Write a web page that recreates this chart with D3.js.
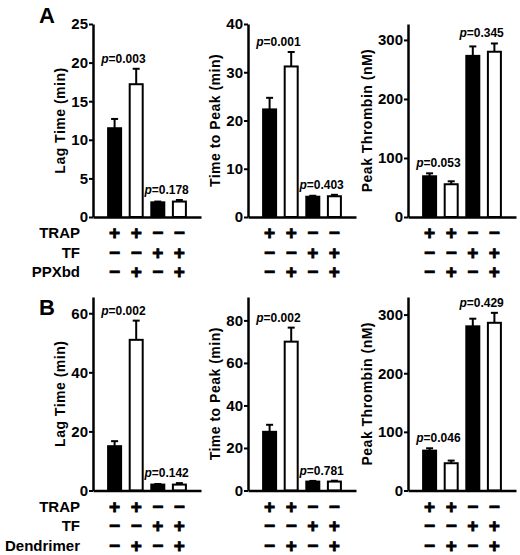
<!DOCTYPE html>
<html>
<head>
<meta charset="utf-8">
<script src="https://cdn.jsdelivr.net/npm/d3@7"></script>
<style>
  body { margin: 0; background: #fff; }
  svg { display: block; font-family: "Liberation Sans", Arial, sans-serif; }
  .axis path, .axis line { stroke: #000; }
  .axis text { font-size: 15px; font-weight: bold; fill: #000; }
</style>
</head>
<body>
<svg id="chart" width="520" height="555"></svg>
<script>
// Data (means and upper SEM)
const lagA = [11.5, 17.2, 1.9, 2.0];
const lagAErr = [1.2, 2.0, 0.1, 0.2];
const ttpA = [22.3, 31.2, 4.2, 4.3];
const ttpAErr = [2.4, 3.0, 0.2, 0.3];
const peakA = [69, 55.5, 273, 280];
const peakAErr = [5, 5, 16, 14];

const lagB = [15.0, 51.0, 2.0, 2.0];
const lagBErr = [1.7, 6.5, 0.2, 0.5];
const ttpB = [27.6, 70.0, 4.2, 4.2];
const ttpBErr = [3.3, 6.6, 0.3, 0.4];
const peakB = [68, 46.5, 280, 286];
const peakBErr = [4, 4.5, 13, 17];

const pA = [["0.003", "0.178"], ["0.001", "0.403"], ["0.053", "0.345"]];
const pB = [["0.002", "0.142"], ["0.002", "0.781"], ["0.046", "0.429"]];

const titles = ["Lag Time (min)", "Time to Peak (min)", "Peak Thrombin (nM)"];
const ticksA = [[0, 5, 10, 15, 20, 25], [0, 10, 20, 30, 40], [0, 100, 200, 300]];
const ticksB = [[0, 20, 40, 60], [0, 20, 40, 60, 80], [0, 100, 200, 300]];
const maxA = [25, 40, 327];
const maxB = [65.5, 91, 330];

const conditions = [0, 1, 2, 3];
const rowLabelsA = ["TRAP", "TF", "PPXbd"];
const rowLabelsB = ["TRAP", "TF", "Dendrimer"];
const signRows = [
  ["+", "+", "\u2212", "\u2212"],
  ["\u2212", "\u2212", "+", "+"],
  ["\u2212", "+", "\u2212", "+"]
];

// Layout
const svg = d3.select("#chart");
const panelX = [93, 248, 408];
const plotW = 108;
const barW = 15;
const rowOffsets = [21, 40.5, 60];

const figures = [
  { letter: "A", letterY: 23, top: 24, base: 217, means: [lagA, ttpA, peakA], errs: [lagAErr, ttpAErr, peakAErr],
    p: pA, ticks: ticksA, max: maxA, rows: rowLabelsA },
  { letter: "B", letterY: 315, top: 297, base: 490.5, means: [lagB, ttpB, peakB], errs: [lagBErr, ttpBErr, peakBErr],
    p: pB, ticks: ticksB, max: maxB, rows: rowLabelsB }
];

figures.forEach((fig) => {
  const g = svg.append("g");

  // Panel letter
  g.append("text")
    .attr("x", 39)
    .attr("y", fig.letterY)
    .attr("font-size", 22)
    .attr("font-weight", "bold")
    .text(fig.letter);

  panelX.forEach((x0, k) => {
    const x = d3.scalePoint().domain(conditions).range([x0, x0 + plotW]).padding(1);
    const y = d3.scaleLinear().domain([0, fig.max[k]]).range([fig.base, fig.top]);
    const means = fig.means[k];
    const errs = fig.errs[k];
    const pg = g.append("g");

    // Bars
    pg.selectAll("rect")
      .data(conditions)
      .join("rect")
      .attr("x", (d) => x(d) - barW / 2 + 1)
      .attr("width", barW - 2)
      .attr("y", (d) => y(means[d]))
      .attr("height", (d) => fig.base - y(means[d]))
      .attr("fill", (d) => (d % 2 === 0 ? "#000" : "#fff"))
      .attr("stroke", "#000")
      .attr("stroke-width", 2);

    // Error bars (upper only)
    const eb = pg.selectAll(".err").data(conditions).join("g").attr("class", "err");
    eb.append("line")
      .attr("x1", (d) => x(d))
      .attr("x2", (d) => x(d))
      .attr("y1", (d) => y(means[d]))
      .attr("y2", (d) => y(means[d] + errs[d]))
      .attr("stroke", "#000")
      .attr("stroke-width", 2);
    eb.append("line")
      .attr("x1", (d) => x(d) - 3.5)
      .attr("x2", (d) => x(d) + 3.5)
      .attr("y1", (d) => y(means[d] + errs[d]))
      .attr("y2", (d) => y(means[d] + errs[d]))
      .attr("stroke", "#000")
      .attr("stroke-width", 2);

    // Axes
    const yAxisG = pg.append("g")
      .attr("class", "axis")
      .attr("transform", `translate(${x0},0)`)
      .call(d3.axisLeft(y).tickValues(fig.ticks[k]).tickSize(4).tickSizeOuter(0).tickPadding(1));
    yAxisG.select(".domain").attr("stroke-width", 2.5);
    yAxisG.selectAll(".tick line").attr("stroke-width", 2);
    yAxisG.selectAll(".tick text").attr("font-family", "Liberation Sans, Arial, sans-serif");

    pg.append("g")
      .attr("class", "axis")
      .attr("transform", `translate(0,${fig.base})`)
      .call(d3.axisBottom(x).tickSize(0).tickSizeOuter(0).tickFormat(""))
      .select(".domain")
      .attr("stroke-width", 2.5);

    // Axis title
    const bb = yAxisG.node().getBBox();
    pg.append("text")
      .attr("transform", `translate(${x0 + bb.x - 11},${(fig.top + fig.base) / 2}) rotate(-90)`)
      .attr("text-anchor", "middle")
      .attr("dominant-baseline", "central")
      .attr("font-size", 14)
      .attr("font-weight", "bold")
      .attr("letter-spacing", 0.5)
      .text(titles[k]);

    // p-value labels over each pair
    fig.p[k].forEach((pv, j) => {
      const a = j * 2, b = j * 2 + 1;
      const topV = Math.max(means[a] + errs[a], means[b] + errs[b]);
      const t = pg.append("text")
        .attr("x", (x(a) + x(b)) / 2 - 2)
        .attr("y", y(topV) - 6)
        .attr("text-anchor", "middle")
        .attr("font-size", 12)
        .attr("font-weight", "bold");
      t.append("tspan").attr("font-style", "italic").text("p");
      t.append("tspan").text("=" + pv);
    });

    // +/- table beneath the bars
    signRows.forEach((row, r) => {
      pg.selectAll(null)
        .data(conditions)
        .join("text")
        .attr("x", (d) => x(d))
        .attr("y", fig.base + rowOffsets[r] + 1)
        .attr("text-anchor", "middle")
        .attr("font-size", 19)
        .attr("font-weight", "bold")
        .attr("stroke", "#000")
        .attr("stroke-width", 0.8)
        .text((d) => row[d]);
    });
  });

  // Row labels
  fig.rows.forEach((lab, r) => {
    g.append("text")
      .attr("x", 80)
      .attr("y", fig.base + rowOffsets[r])
      .attr("text-anchor", "end")
      .attr("font-size", 15)
      .attr("font-weight", "bold")
      .text(lab);
  });
});
</script>
</body>
</html>
